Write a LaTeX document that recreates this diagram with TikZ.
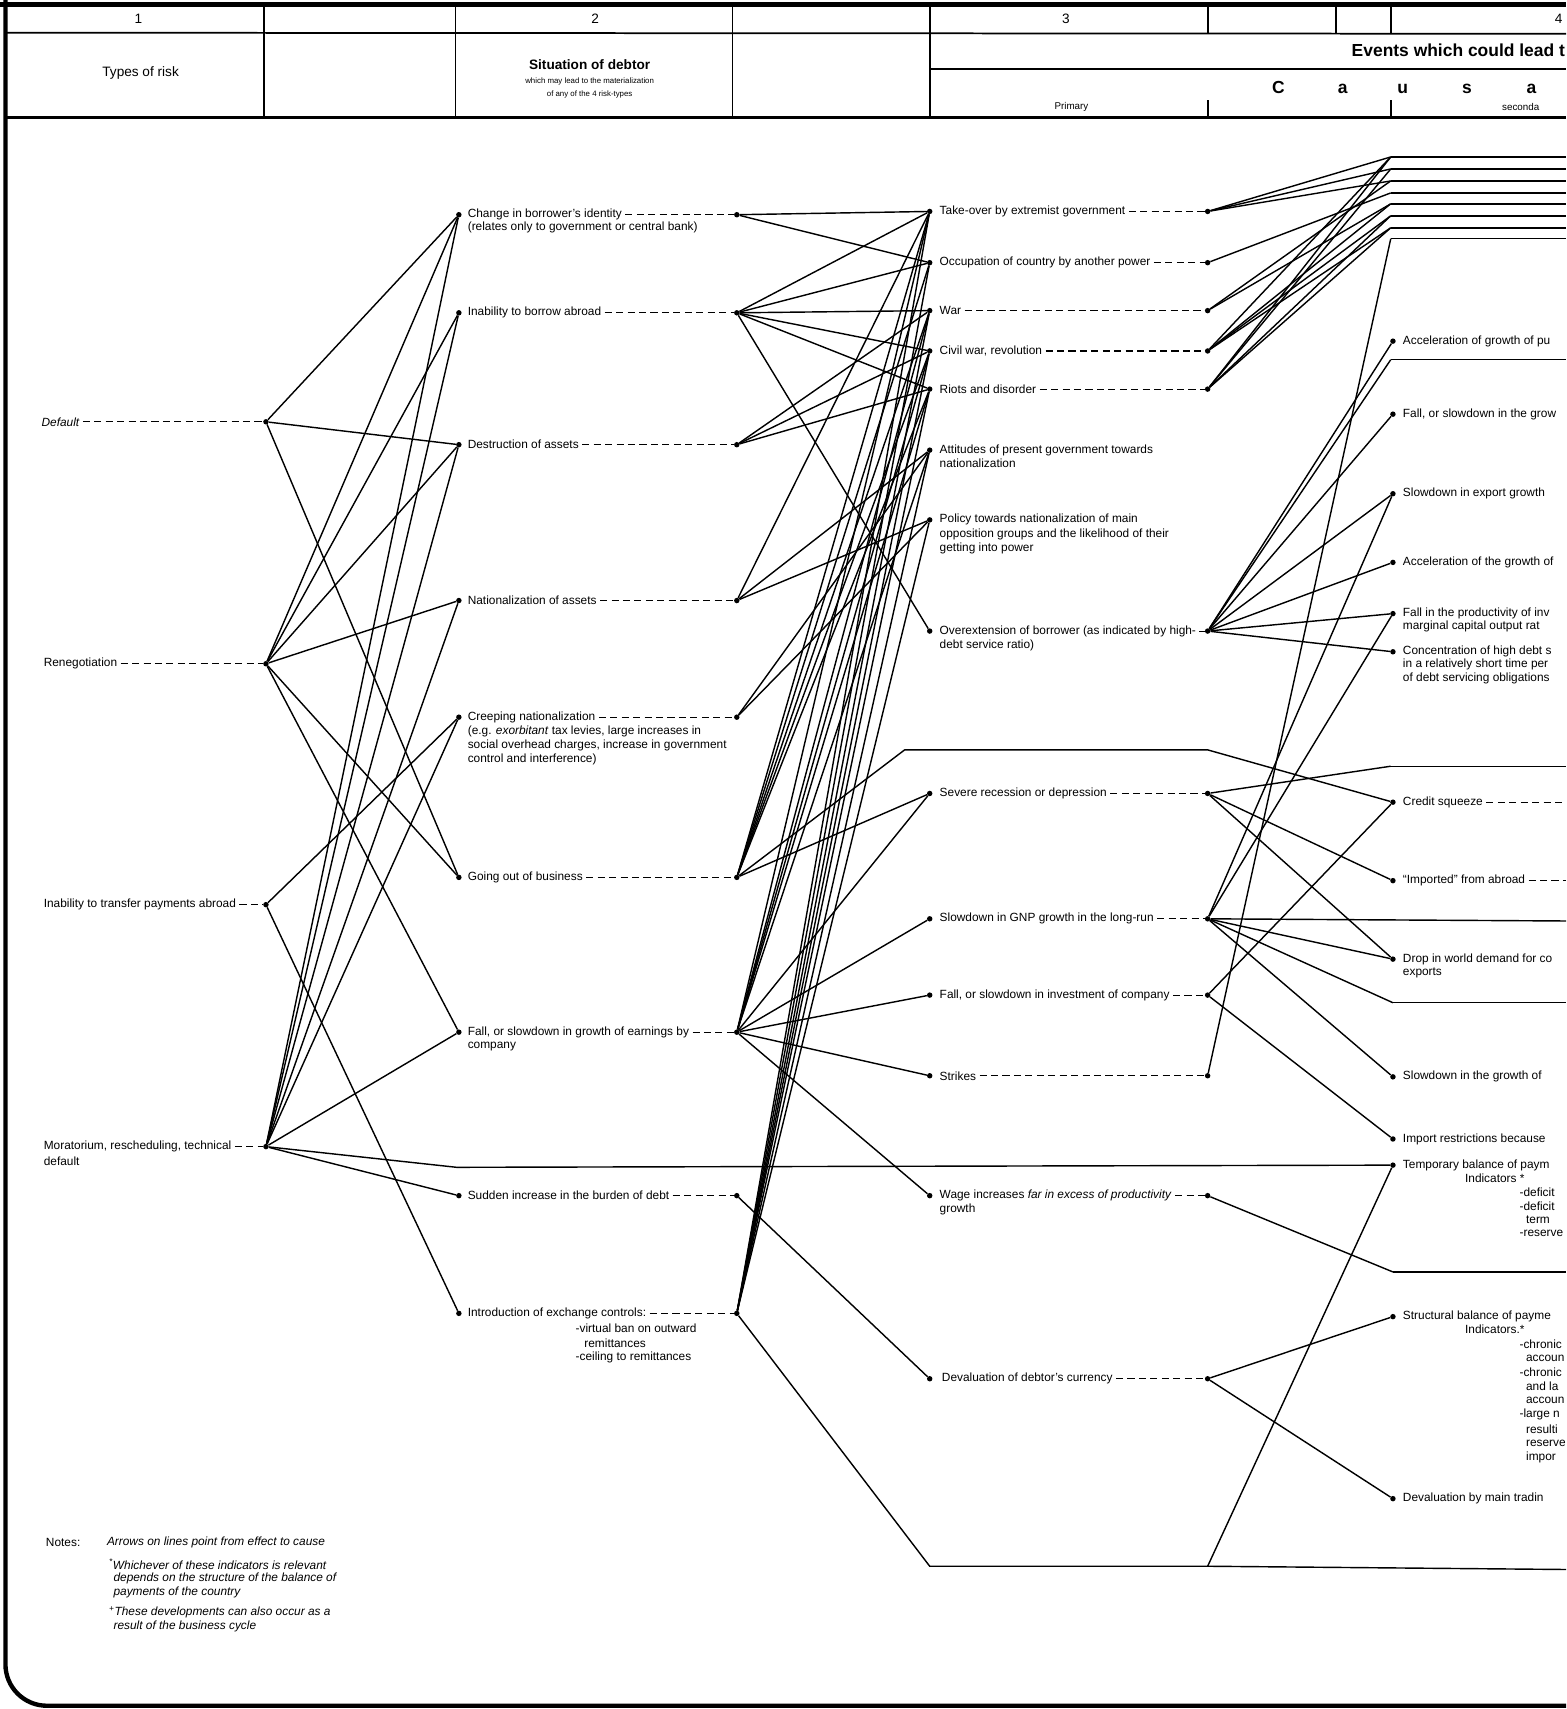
\documentclass[tikz,border=0pt]{standalone}
\usepackage{fontspec}
\setmainfont{Liberation Sans}
\begin{document}
\begin{tikzpicture}[x=1pt,y=-1pt,
  lbl/.style={anchor=west,inner sep=0pt,font=\fontsize{10.9}{12}\selectfont},
  sml/.style={anchor=west,inner sep=0pt,font=\fontsize{10.9}{12}\selectfont\itshape},
  hdr/.style={inner sep=0pt,font=\fontsize{12.5}{14}\selectfont},
  tiny/.style={inner sep=0pt,font=\fontsize{7.2}{8}\selectfont},
  big/.style={inner sep=0pt,font=\fontsize{16}{18}\selectfont\bfseries},
  dot/.style={circle,fill=black,inner sep=0pt,minimum size=5pt},
  conn/.style={line width=1.3pt},
  dsh/.style={line width=1pt,dash pattern=on 6.5pt off 4pt},
  rule/.style={line width=1.6pt},
  frame/.style={line width=4pt},
]
\useasboundingbox (0,0) rectangle (1437,1568);
\begin{scope}
\clip (0,0) rectangle (1437,1568);

% ---------- frame and header ----------
\draw[frame] (0,4) -- (1437,4);
\draw[frame] (5,0) -- (5,1527) arc[start angle=180,end angle=90,radius=38] -- (1437,1565);
\draw[rule] (5,30) -- (1437,31);
\draw[line width=2.4pt] (5,108) -- (1437,108);
\foreach \x in {242,418,672,853} \draw[rule] (\x,4) -- (\x,108);
\foreach \x in {1108,1226,1276} \draw[rule] (\x,4) -- (\x,30);
\draw[rule] (853,63) -- (1437,63);
\draw[rule] (1108,92) -- (1108,106);
\draw[rule] (1276,92) -- (1276,106);

\node[hdr] (n1) at (127,17) {1};
\node[hdr] (n2) at (546,17) {2};
\node[hdr] (n3) at (978,17) {3};
\node[hdr] (n4) at (1430,17) {4};
\node[hdr] (hTypes) at (129,67) {Types of risk};
\node[hdr,font=\fontsize{12.5}{14}\selectfont\bfseries] (hSit) at (541,59) {Situation of debtor};
\node[tiny] (hSit2) at (541,75) {which may lead to the materialization};
\node[tiny] (hSit3) at (541,87) {of any of the 4 risk-types};
\node[big,anchor=west] (hEv) at (1240,46) {Events which could lead t};
\node[big] (hC) at (1173,80) {C};
\node[big] (ha1) at (1232,82) {a};
\node[big] (hu) at (1287,82) {u};
\node[big] (hs) at (1346,82) {s};
\node[big] (ha2) at (1405,82) {a};
\node[tiny,font=\fontsize{9}{10}\selectfont] (hPrim) at (983,98) {Primary};
\node[tiny,anchor=west,font=\fontsize{9}{10}\selectfont] (hSec) at (1378,98) {seconda};

% ---------- column 1 : types of risk ----------
\node[dot] (r1) at (244,387) {};
\node[dot] (r2) at (244,609) {};
\node[dot] (r3) at (244,830) {};
\node[dot] (r4) at (244,1052) {};
\node[lbl] (t1) at (38,387) {\itshape Default};
\node[lbl] (t2) at (40,609) {Renegotiation};
\node[lbl] (t3) at (40,830) {Inability to transfer payments abroad};
\node[lbl] (t4) at (40,1052) {Moratorium, rescheduling, technical};
\node[lbl] (t4b) at (40,1065) {default};
\foreach \t/\r in {t1/r1,t2/r2,t3/r3,t4/r4}
  \draw[dsh] ([xshift=3pt]\t.east) -- (\r);

% ---------- column 2 : situation of debtor ----------
\foreach \i/\y in {1/197,2/287,3/408,4/551,5/658,6/805,7/947,8/1097,9/1205}{
  \node[dot] (sL\i) at (421,\y) {};
  \node[dot] (sR\i) at (676,\y) {};
}
\node[lbl] (s1) at (429,197) {Change in borrower's identity};
\node[lbl] (s1b) at (429,209) {(relates only to government or central bank)};
\node[lbl] (s2) at (429,287) {Inability to borrow abroad};
\node[lbl] (s3) at (429,408) {Destruction of assets};
\node[lbl] (s4) at (429,551) {Nationalization of assets};
\node[lbl] (s5) at (429,658) {Creeping nationalization};
\node[lbl] (s5b) at (429,671) {(e.g. \textit{exorbitant} tax levies, large increases in};
\node[lbl] (s5c) at (429,684) {social overhead charges, increase in government};
\node[lbl] (s5d) at (429,697) {control and interference)};
\node[lbl] (s6) at (429,805) {Going out of business};
\node[lbl] (s7) at (429,947) {Fall, or slowdown in growth of earnings by};
\node[lbl] (s7b) at (429,960) {company};
\node[lbl] (s8) at (429,1097) {Sudden increase in the burden of debt};
\node[lbl] (s9) at (429,1205) {Introduction of exchange controls:};
\node[lbl] (s9b) at (528,1219) {-virtual ban on outward};
\node[lbl] (s9c) at (536,1232) {remittances};
\node[lbl] (s9d) at (528,1245) {-ceiling to remittances};
\foreach \i in {1,...,9}
  \draw[dsh] ([xshift=3pt]s\i.east) -- (sR\i);

% ---------- column 3 : primary causal events ----------
\foreach \i/\y in {1/194,2/241,3/285,4/322,5/357,6/413,7/477,8/579,9/728,10/843,11/913,12/987,13/1097,14/1265}
  \node[dot] (pL\i) at (853,\y) {};
\foreach \i/\y in {1/194,2/241,3/285,4/322,5/357,8/579,9/728,10/843,11/913,12/987,13/1097,14/1265}
  \node[dot] (pR\i) at (1108,\y) {};
\node[lbl] (p1) at (862,194) {Take-over by extremist government};
\node[lbl] (p2) at (862,241) {Occupation of country by another power};
\node[lbl] (p3) at (862,285) {War};
\node[lbl] (p4) at (862,322) {Civil war, revolution};
\node[lbl] (p5) at (862,357) {Riots and disorder};
\node[lbl] (p6) at (862,413) {Attitudes of present government towards};
\node[lbl] (p6b) at (862,425) {nationalization};
\node[lbl] (p7) at (862,477) {Policy towards nationalization of main};
\node[lbl] (p7b) at (862,490) {opposition groups and the likelihood of their};
\node[lbl] (p7c) at (862,503) {getting into power};
\node[lbl] (p8) at (862,579) {Overextension of borrower (as indicated by high-};
\node[lbl] (p8b) at (862,592) {debt service ratio)};
\node[lbl] (p9) at (862,728) {Severe recession or depression};
\node[lbl] (p10) at (862,843) {Slowdown in GNP growth in the long-run};
\node[lbl] (p11) at (862,913) {Fall, or slowdown in investment of company};
\node[lbl] (p12) at (862,987) {Strikes};
\node[lbl] (p13) at (862,1097) {Wage increases \textit{far in excess of productivity}};
\node[lbl] (p13b) at (862,1110) {growth};
\node[lbl] (p14) at (864,1265) {Devaluation of debtor's currency};
\foreach \i in {1,2,3,4,5,8,9,10,11,12,13,14}
  \draw[dsh] ([xshift=3pt]p\i.east) -- (pR\i);

% ---------- column 4 : secondary causal events ----------
\foreach \i/\y in {1/313,2/380,3/453,4/516,5/563,6/598,7/736,8/808,9/880,10/988,11/1045,12/1069,13/1208,14/1375}
  \node[dot] (q\i) at (1278,\y) {};
\node[lbl] (u1) at (1287,313) {Acceleration of growth of pu};
\node[lbl] (u2) at (1287,380) {Fall, or slowdown in the grow};
\node[lbl] (u3) at (1287,453) {Slowdown in export growth};
\node[lbl] (u4) at (1287,516) {Acceleration of the growth of};
\node[lbl] (u5) at (1287,563) {Fall in the productivity of inv};
\node[lbl] (u5b) at (1287,575) {marginal capital output rat};
\node[lbl] (u6) at (1287,598) {Concentration of high debt s};
\node[lbl] (u6b) at (1287,610) {in a relatively short time per};
\node[lbl] (u6c) at (1287,622) {of debt servicing obligations};
\node[lbl] (u7) at (1287,736) {Credit squeeze};
\node[lbl] (u8) at (1287,808) {“Imported” from abroad};
\node[lbl] (u9) at (1287,880) {Drop in world demand for co};
\node[lbl] (u9b) at (1287,893) {exports};
\node[lbl] (u10) at (1287,988) {Slowdown in the growth of};
\node[lbl] (u11) at (1287,1045) {Import restrictions because};
\node[lbl] (u12) at (1287,1069) {Temporary balance of paym};
\node[lbl] (u12b) at (1344,1081) {Indicators *};
\node[lbl] (u12c) at (1394,1094) {-deficit};
\node[lbl] (u12d) at (1394,1107) {-deficit};
\node[lbl] (u12e) at (1400,1119) {term};
\node[lbl] (u12f) at (1394,1132) {-reserve};
\node[lbl] (u13) at (1287,1208) {Structural balance of payme};
\node[lbl] (u13b) at (1344,1220) {Indicators.*};
\node[lbl] (u13c) at (1394,1233) {-chronic};
\node[lbl] (u13d) at (1400,1246) {accoun};
\node[lbl] (u13e) at (1394,1259) {-chronic};
\node[lbl] (u13f) at (1400,1272) {and la};
\node[lbl] (u13g) at (1400,1285) {accoun};
\node[lbl] (u13h) at (1394,1298) {-large n};
\node[lbl] (u13i) at (1400,1311) {resulti};
\node[lbl] (u13j) at (1400,1324) {reserve};
\node[lbl] (u13k) at (1400,1337) {impor};
\node[lbl] (u14) at (1287,1375) {Devaluation by main tradin};
\coordinate (x7) at (1437,736);
\coordinate (x8) at (1437,808);
\draw[dsh] ([xshift=3pt]u7.east) -- (x7);
\draw[dsh] ([xshift=3pt]u8.east) -- (x8);

% corners of lines that lead to off-page secondary events
\foreach \i/\y in {1/144,2/155,3/166,4/177,5/187,6/198,7/209,8/219,9/330,10/703}{
  \coordinate (c\i) at (1276,\y);
  \coordinate (h\i) at (1437,\y);
  \draw[conn] (c\i) -- (h\i);
}
\coordinate (c11) at (1278,920);  \coordinate (h11) at (1437,920);
\coordinate (c12) at (1278,1167); \coordinate (h12) at (1437,1167);
\coordinate (h13) at (1437,845);
\coordinate (h14) at (1437,1440);
\draw[conn] (c11) -- (h11);
\draw[conn] (c12) -- (h12);

% ---------- connectors ----------
% column 1 -> column 2
\foreach \a/\b in {r1/sL1,r1/sL3,r1/sL6,
  r2/sL1,r2/sL2,r2/sL3,r2/sL4,r2/sL6,r2/sL7,
  r3/sL5,r3/sL9,
  r4/sL1,r4/sL2,r4/sL3,r4/sL4,r4/sL5,r4/sL7,r4/sL8}
  \draw[conn] (\a) -- (\b);
\coordinate (m1) at (419,1071);
\draw[conn] (r4) -- (m1) -- (q12);

% column 2 -> column 3
\foreach \a/\b in {sR1/pL1,sR1/pL2,
  sR2/pL1,sR2/pL2,sR2/pL3,sR2/pL4,sR2/pL5,sR2/pL8,
  sR3/pL3,sR3/pL4,sR3/pL5,
  sR4/pL1,sR4/pL6,sR4/pL7,
  sR5/pL6,sR5/pL7,
  sR6/pL1,sR6/pL2,sR6/pL3,sR6/pL4,sR6/pL5,sR6/pL9,
  sR7/pL1,sR7/pL3,sR7/pL4,sR7/pL5,sR7/pL6,sR7/pL9,sR7/pL10,sR7/pL11,sR7/pL12,sR7/pL13,
  sR8/pL14,
  sR9/pL1,sR9/pL2,sR9/pL3,sR9/pL4,sR9/pL5,sR9/pL6,sR9/pL7}
  \draw[conn] (\a) -- (\b);
\coordinate (g1) at (830,688);
\coordinate (g2) at (1108,688);
\draw[conn] (sR6) -- (g1) -- (g2) -- (q7);
\coordinate (b1) at (853,1437);
\coordinate (b2) at (1108,1437);
\draw[conn] (sR9) -- (b1) -- (b2) -- (h14);

% column 3 -> column 4
\foreach \a/\b in {pR1/c1,pR1/c2,pR1/c3,
  pR2/c4,
  pR3/c3,pR3/c5,
  pR4/c1,pR4/c5,pR4/c6,pR4/c7,
  pR5/c1,pR5/c2,pR5/c6,pR5/c7,
  pR8/q1,pR8/c9,pR8/q2,pR8/q3,pR8/q4,pR8/q5,pR8/q6,
  pR9/c10,pR9/q8,pR9/q9,
  pR10/h13,pR10/q9,pR10/c11,pR10/q10,pR10/q3,pR10/q5,
  pR11/q7,pR11/q11,
  pR12/c8,
  pR13/c12,
  pR14/q13,pR14/q14,
  b2/q12}
  \draw[conn] (\a) -- (\b);

% ---------- notes ----------
\node[sml] (nt0) at (42,1415) {\upshape Notes:};
\node[sml] (nt1) at (98,1415) {Arrows on lines point from effect to cause};
\node[sml] (nt2) at (100,1435) {\textsuperscript{*}Whichever of these indicators is relevant};
\node[sml] (nt3) at (104,1448) {depends on the structure of the balance of};
\node[sml] (nt4) at (104,1461) {payments of the country};
\node[sml] (nt5) at (100,1479) {\textsuperscript{+}These developments can also occur as a};
\node[sml] (nt6) at (104,1492) {result of the business cycle};
\end{scope}
\end{tikzpicture}
\end{document}
